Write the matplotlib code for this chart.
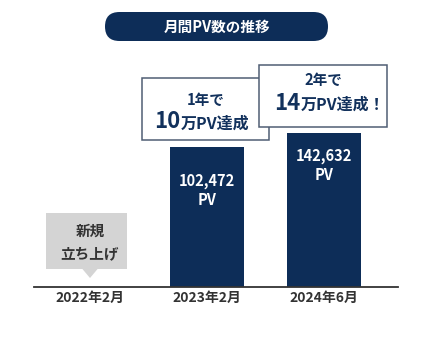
import numpy as np
import matplotlib
matplotlib.use("Agg")
import matplotlib.pyplot as plt
from matplotlib.patches import FancyBboxPatch, Rectangle, Polygon
from matplotlib.transforms import Affine2D

plt.rcParams['font.family'] = ['Noto Sans CJK JP', 'DejaVu Sans']
plt.rcParams['font.weight'] = 'bold'

# Data
periods = ['2022年2月', '2023年2月', '2024年6月']
page_views = np.array([np.nan, 102472, 142632])  # 2022: site launch, no PV yet
value_labels = ['', '102,472\nPV', '142,632\nPV']
title = '月間PV数の推移'

NAVY = '#0d2d58'
BORDER = '#4f5e74'
TEXT_NAVY = '#12315c'
GRAY = '#d4d4d4'
DARK = '#333333'

W, H = 445, 338
fig = plt.figure(figsize=(W / 100, H / 100), dpi=100)
fig.patch.set_facecolor('white')

# pixel coordinates measured from the top-left corner
px = Affine2D().scale(1, -1).translate(0, H).scale(1 / W, 1 / H) + fig.transFigure

# bar axes (value axis starts below zero so the bars stay compact)
Y_FLOOR, Y_TOP = -300000, 360000
ax = fig.add_axes([34 / W, 51 / H, 364 / W, 230 / H])
ax.set_xlim(-0.479, 2.632)
ax.set_ylim(Y_FLOOR, Y_TOP)
x = np.arange(len(periods))
has = ~np.isnan(page_views)
ax.bar(x[has], page_views[has] - Y_FLOOR, bottom=Y_FLOOR, width=0.63, color=NAVY)

for s in ['top', 'right', 'left']:
    ax.spines[s].set_visible(False)
ax.spines['bottom'].set_color(DARK)
ax.spines['bottom'].set_linewidth(1.3)
ax.set_yticks([])
ax.set_xticks(x)
ax.set_xticklabels(periods, fontsize=10, color=DARK, fontweight='bold')
ax.tick_params(axis='x', length=0, pad=3)

# value labels inside the bars
label_offsets = [0, 31.7, 23.8]
for i, v in enumerate(page_views):
    if np.isnan(v):
        continue
    ax.annotate(value_labels[i], xy=(i, v), xytext=(0, -label_offsets[i]),
                textcoords='offset points', ha='center', va='center',
                color='white', fontsize=10.5, fontweight='bold', linespacing=1.25)

# title pill
fig.add_artist(FancyBboxPatch((105, 12), 223, 29,
                              boxstyle='round,pad=0,rounding_size=14.5',
                              transform=px, facecolor=NAVY, edgecolor='none'))
fig.text(216.5, 27, title, transform=px, ha='center', va='center',
         color='white', fontsize=10.5, fontweight='bold')

# milestone boxes (second one overlaps the first)
fig.add_artist(Rectangle((142, 78), 127, 62, transform=px,
                         facecolor='white', edgecolor=BORDER, linewidth=1.1))
fig.text(206, 105, '1年で', transform=px, ha='center', va='baseline',
         color=TEXT_NAVY, fontsize=10.5, fontweight='bold')
fig.text(180, 128.5, '10', transform=px, ha='right', va='baseline',
         color=TEXT_NAVY, fontsize=16, fontweight='bold')
fig.text(181, 128.5, '万PV達成', transform=px, ha='left', va='baseline',
         color=TEXT_NAVY, fontsize=11.5, fontweight='bold')

fig.add_artist(Rectangle((259, 65), 128, 62, transform=px,
                         facecolor='white', edgecolor=BORDER, linewidth=1.1))
fig.text(323, 85, '2年で', transform=px, ha='center', va='baseline',
         color=TEXT_NAVY, fontsize=10.5, fontweight='bold')
fig.text(300, 109.5, '14', transform=px, ha='right', va='baseline',
         color=TEXT_NAVY, fontsize=16, fontweight='bold')
fig.text(301, 109.5, '万PV達成！', transform=px, ha='left', va='baseline',
         color=TEXT_NAVY, fontsize=11.5, fontweight='bold')

# launch callout above the first period
fig.add_artist(Rectangle((46, 213), 81, 56, transform=px,
                         facecolor=GRAY, edgecolor='none'))
fig.add_artist(Polygon([(82, 268.5), (98, 268.5), (90, 278)], closed=True,
                       transform=px, facecolor=GRAY, edgecolor='none'))
fig.text(90, 242, '新規\n立ち上げ', transform=px, ha='center', va='center',
         color=DARK, fontsize=10.5, fontweight='bold', linespacing=1.45)

fig.savefig('out.png', dpi=100, facecolor='white')
